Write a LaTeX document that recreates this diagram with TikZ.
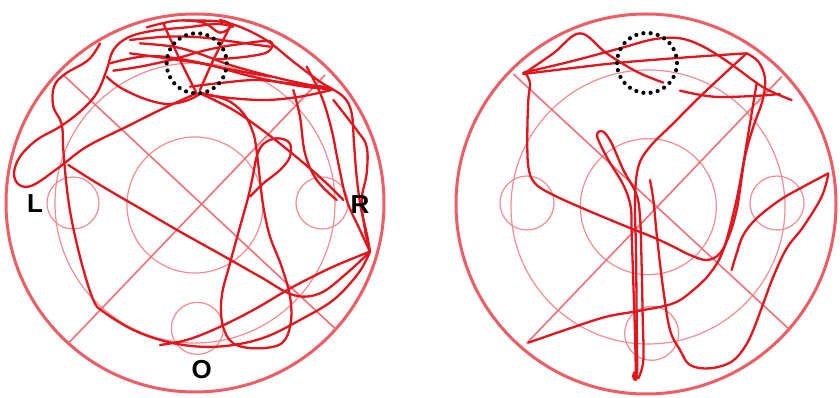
\documentclass[tikz,border=0pt]{standalone}
\usepackage{fontspec}
\setmainfont{Liberation Sans}
\definecolor{track}{RGB}{228,20,28}
\definecolor{maze}{RGB}{242,140,146}
\definecolor{rimc}{RGB}{238,92,100}
\definecolor{diagc}{RGB}{240,112,120}
\tikzset{
  rim/.style={draw=rimc, line width=3pt},
  mazeline/.style={draw=maze, line width=1.2pt},
  diag/.style={draw=diagc, line width=1.6pt},
  swim/.style={draw=track, line width=2.3pt, line cap=round, line join=round},
  targetdot/.style={fill=black},
  lab/.style={font=\bfseries\fontsize{26}{26}\selectfont, text=black, inner sep=0pt}
}
\begin{document}
\begin{tikzpicture}[x=1pt,y=-1pt]
\useasboundingbox (0,0) rectangle (840,398);
\fill[white] (0,0) rectangle (840,398);
% ================= LEFT MAZE =================
\begin{scope}[x=0.33333pt,y=-0.33333pt]
  \draw[rim] (585,609) circle[radius=189pt];
  \draw[mazeline] (585,609) circle[radius=140pt];
  \draw[mazeline] (585,615) circle[radius=68pt];
  \draw[mazeline] (219,609) circle[radius=26pt];
  \draw[mazeline] (966,609) circle[radius=26pt];
  \draw[mazeline] (592,985) circle[radius=26pt];
  \draw[diag] (190,225) -- (1010,990);
  \draw[diag] (205,1030) -- (975,225);
  % swim path
  \draw[swim] plot[smooth,tension=0.6] coordinates {(590,280) (480,330) (380,380) (260,440) (180,500) (100,555) (58,555) (42,520) (60,470) (110,420) (180,380) (240,335) (290,280) (320,210) (340,150) (385,112) (460,92) (560,82) (650,72) (700,80)};
  \draw[swim] plot[smooth,tension=0.6] coordinates {(300,130) (265,180) (195,222) (162,260) (160,320) (185,372) (190,450) (200,560) (215,660) (245,790) (280,900) (310,935) (400,990) (500,1025) (600,1040) (700,1035) (800,1010) (900,960) (1000,900) (1075,820) (1110,755)};
  \draw[swim] plot[smooth,tension=0.6] coordinates {(205,495) (300,555) (420,625) (540,695) (660,762) (780,830) (880,885) (960,880) (1040,820) (1110,755)};
  \draw[swim] plot[smooth,tension=0.6] coordinates {(1110,755) (1000,800) (880,860) (760,930) (650,985) (560,1020) (480,1035)};
  \draw[swim] plot[smooth,tension=0.6] coordinates {(750,590) (790,550) (840,510) (870,470) (868,428) (830,415) (790,432) (770,470) (760,520) (745,590) (720,680) (690,790) (665,890) (668,975) (700,1030) (770,1045) (845,1030) (872,970) (870,890) (845,800) (810,710) (790,620) (780,540) (772,470) (760,400) (730,340) (680,300) (600,278)};
  \draw[swim] plot[smooth,tension=0.6] coordinates {(600,280) (700,330) (800,400) (900,480) (980,550) (1030,600)};
  \draw[swim] plot[smooth,tension=0.6] coordinates {(560,62) (680,68) (790,115) (880,185) (960,245) (1030,290) (1055,340) (1062,430) (1070,530) (1082,620) (1100,700) (1110,755)};
  \draw[swim] plot[smooth,tension=0.6] coordinates {(1000,300) (1070,390) (1100,440) (1100,520) (1085,600) (1095,690) (1110,755)};
  \draw[swim] plot[smooth,tension=0.6] coordinates {(920,200) (965,290) (995,390) (1015,490) (1040,600) (1080,690) (1110,755)};
  \draw[swim] plot[smooth,tension=0.6] coordinates {(880,270) (900,350) (915,460) (950,540) (1010,600)};
  \draw[swim] plot[smooth,tension=0.6] coordinates {(330,190) (450,168) (600,188) (750,228) (900,258) (995,268)};
  \draw[swim] plot[smooth,tension=0.6] coordinates {(995,270) (900,290) (800,300) (700,295) (620,285)};
  \draw[swim] plot[smooth,tension=0.6] coordinates {(420,130) (520,140) (600,162) (700,198) (850,238) (995,268)};
  \draw[swim] plot[smooth,tension=0.6] coordinates {(340,212) (420,200) (520,178) (620,150) (720,132) (810,124) (805,155) (740,170) (650,178)};
  \draw[swim] plot[smooth,tension=0.6] coordinates {(440,82) (530,62) (610,68) (660,98) (695,75) (660,60)};
  \draw[swim] plot[smooth,tension=0.6] coordinates {(490,70) (540,180) (590,280)};
  \draw[swim] plot[smooth,tension=0.6] coordinates {(690,80) (640,180) (600,270)};
  \draw[swim] plot[smooth,tension=0.6] coordinates {(390,160) (500,175) (600,190) (700,210) (810,230)};
  \draw[swim] plot[smooth,tension=0.6] coordinates {(320,230) (360,262) (430,295) (500,312) (560,302) (600,282)};
  \draw[swim] plot[smooth,tension=0.6] coordinates {(390,120) (500,110) (600,112) (700,125) (810,140)};
  \draw[swim] plot[smooth,tension=0.6] coordinates {(570,260) (670,248) (770,240) (870,250) (990,262)};
  \foreach \a in {0,...,25} \fill[targetdot] (590,190) ++({\a*360/26}:30pt) circle[radius=2.1pt];
  \node[lab] (labL) at (105,612) {L};
  \node[lab] (labR) at (1080,615) {R};
  \node[lab] (labO) at (605,1110) {O};
\end{scope}
% ================= RIGHT MAZE =================
\begin{scope}[xshift=420pt,x=0.33333pt,y=-0.33333pt]
  \draw[rim] (678,612) circle[radius=190pt];
  \draw[mazeline] (684,621) circle[radius=137pt];
  \draw[mazeline] (685,620) circle[radius=68pt];
  \draw[mazeline] (321,609) circle[radius=27pt];
  \draw[mazeline] (1071,609) circle[radius=27pt];
  \draw[mazeline] (695,1000) circle[radius=27pt];
  \draw[diag] (280,222) -- (1110,990);
  \draw[diag] (320,1030) -- (1085,230);
  % swim path
  \draw[swim] plot[smooth,tension=0.6] coordinates {(310,222) (400,160) (480,100) (560,160) (650,215) (730,248)};
  \draw[swim] plot[smooth,tension=0.6] coordinates {(310,222) (450,205) (600,188) (800,172) (980,160)};
  \draw[swim] plot[smooth,tension=0.6] coordinates {(310,218) (450,185) (600,145) (700,118) (780,115) (850,140) (930,190) (1030,262) (1115,300)};
  \draw[swim] plot[smooth,tension=0.6] coordinates {(780,272) (880,290) (1000,288) (1080,282)};
  \draw[swim] plot[smooth,tension=0.6] coordinates {(980,160) (920,215) (840,290) (760,370) (690,440) (655,500) (645,600) (648,750) (650,950) (652,1120)};
  \draw[swim] plot[smooth,tension=0.6] coordinates {(980,160) (1015,185) (1035,235) (1028,300) (1000,380) (975,470) (960,570) (950,630) (930,700) (900,760) (860,780) (810,765) (760,740) (700,712) (620,680) (500,630) (400,585) (345,550) (325,500) (322,400) (325,300) (330,250) (318,222)};
  \draw[swim] plot[smooth,tension=0.6] coordinates {(1010,250) (985,400) (965,520) (945,620) (910,750) (870,820) (820,870) (760,910) (660,932) (560,950) (450,985) (325,1028)};
  \draw[swim] plot[smooth,tension=0.6] coordinates {(1225,520) (1150,560) (1080,600) (1010,655) (970,705) (950,760) (935,810)};
  \draw[swim] plot[smooth,tension=0.6] coordinates {(1225,522) (1205,590) (1150,680) (1100,745) (1060,830) (1030,910) (1000,990) (975,1040) (935,1085) (870,1105) (810,1095) (780,1050) (750,990) (730,870) (712,720) (700,600) (690,540)};
  \draw[swim] plot[smooth,tension=0.6] coordinates {(648,1140) (645,1000) (640,850) (635,700) (632,620) (610,555) (565,480) (535,420) (533,398) (550,395) (575,430) (610,510) (648,580) (660,650) (665,800) (668,950) (670,1080) (655,1135)};
  \fill[track] (645,1128) ellipse[x radius=3pt, y radius=5pt];
  \foreach \a in {0,...,25} \fill[targetdot] (681,189) ++({\a*360/26}:30pt) circle[radius=2.1pt];
\end{scope}
\end{tikzpicture}
\end{document}
